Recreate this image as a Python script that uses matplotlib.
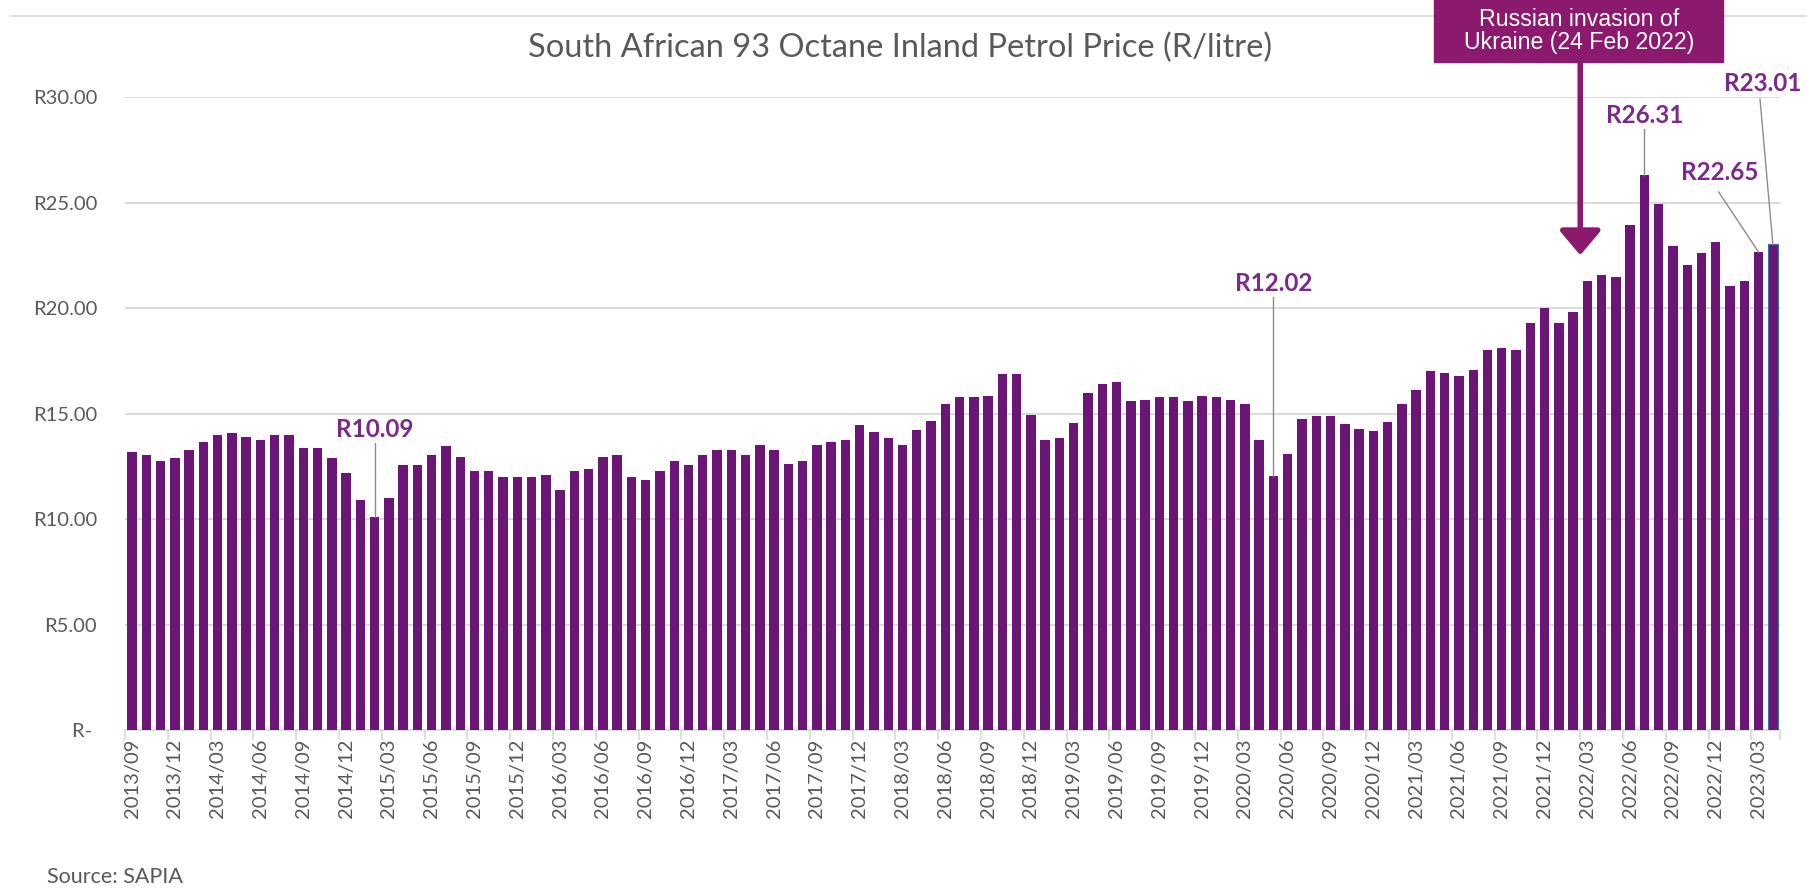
import matplotlib
matplotlib.use("Agg")
import matplotlib.pyplot as plt
from matplotlib.patches import Rectangle
from matplotlib.lines import Line2D

# monthly 93 octane inland price, 2013/09 .. 2023/04 (R/litre)
start_year, start_month = 2013, 9
prices = [
    13.19, 13.02, 12.73, 12.89, 13.27, 13.63, 13.99, 14.10, 13.90, 13.74,
    14.00, 14.00, 13.37, 13.37, 12.90, 12.16, 10.90, 10.09, 10.98, 12.55,
    12.55, 13.02, 13.47, 12.92, 12.26, 12.26, 12.01, 12.01, 12.01, 12.09,
    11.36, 12.26, 12.39, 12.92, 13.02, 12.00, 11.83, 12.26, 12.73, 12.58,
    13.03, 13.28, 13.28, 13.04, 13.49, 13.28, 12.59, 12.75, 13.49, 13.65,
    13.75, 14.45, 14.13, 13.84, 13.49, 14.20, 14.65, 15.45, 15.76, 15.76,
    15.82, 16.85, 16.85, 14.93, 13.75, 13.84, 14.56, 15.95, 16.39, 16.48,
    15.59, 15.65, 15.76, 15.76, 15.59, 15.83, 15.76, 15.65, 15.47, 13.76,
    12.02, 13.10, 14.74, 14.86, 14.86, 14.52, 14.25, 14.16, 14.62, 15.44,
    16.10, 17.00, 16.90, 16.80, 17.08, 18.00, 18.10, 18.00, 19.28, 20.00,
    19.28, 19.83, 21.29, 21.57, 21.48, 23.93, 26.31, 24.95, 22.95, 22.04,
    22.59, 23.11, 21.03, 21.30, 22.65, 23.01,
]
months = []
for i in range(len(prices)):
    m = start_month - 1 + i
    months.append(f"{start_year + m // 12}/{m % 12 + 1:02d}")

y_ticks = [0, 5, 10, 15, 20, 25, 30]
y_labels = ["R- ", "R5.00", "R10.00", "R15.00", "R20.00", "R25.00", "R30.00"]

# highlighted values: (month, text y, label)
callouts = [("2015/02", 13.7, "R10.09"),
            ("2020/05", 20.6, "R12.02"),
            ("2022/07", 28.6, "R26.31")]
invasion_text = "Russian invasion of\nUkraine (24 Feb 2022)"

bar_color = "#6B1677"
label_color = "#7A2A8A"
box_color = "#8B1A6F"
grey = "#595959"

fig = plt.figure(figsize=(18.08, 8.94), dpi=100)
ax = fig.add_axes([0.0691, 0.1834, 0.9154, 0.7081])

x = list(range(len(prices)))
ax.bar(x, prices, width=0.66, color=bar_color, zorder=3)
ax.bar(x[-1], prices[-1], width=0.66, color=bar_color, edgecolor="#3C6FA8",
       linewidth=0.8, zorder=3)

ax.set_xlim(-0.5, len(prices) - 0.5)
ax.set_ylim(0, 30)
ax.set_yticks(y_ticks)
ax.set_yticklabels(y_labels, fontsize=14.5, color=grey, family="Lato")
ax.tick_params(axis="y", length=0, pad=20)
ax.grid(axis="y", color="#D9D9D9", linewidth=1.4, zorder=0)

ax.set_xticks(x[::3])
ax.set_xticklabels(months[::3], rotation=90, fontsize=14.5, color=grey, family="Lato")
ax.set_xticks([i - 0.5 for i in x[::3]] + [len(prices) - 0.5], minor=True)
ax.tick_params(axis="x", which="major", length=0, pad=6)
ax.tick_params(axis="x", which="minor", length=7, color="#D9D9D9", width=1.2)

for side in ["top", "right", "left"]:
    ax.spines[side].set_visible(False)
ax.spines["bottom"].set_color("#D9D9D9")
ax.spines["bottom"].set_linewidth(1.2)

for month, ty, text in callouts:
    i = months.index(month)
    ax.text(i, ty, text, ha="center", va="bottom", fontsize=17.5,
            fontweight="bold", color=label_color, family="Lato", zorder=5)
    ax.plot([i, i], [ty - 0.1, prices[i]], color="#8C8C8C", lw=1, zorder=4)

# the two last months, labelled from above right
i = months.index("2023/03")
ax.text(111.3, 25.9, "R22.65", ha="center", va="bottom", fontsize=17.5,
        fontweight="bold", color=label_color, family="Lato", zorder=5)
ax.plot([111.2, i], [25.5, prices[i]], color="#8C8C8C", lw=1, zorder=4)
i = months.index("2023/04")
ax.text(114.3, 30.1, "R23.01", ha="center", va="bottom", fontsize=17.5,
        fontweight="bold", color=label_color, family="Lato", zorder=5,
        clip_on=False)
ax.plot([114.1, i], [29.9, prices[i]], color="#8C8C8C", lw=1, zorder=4,
        clip_on=False)

# arrow for the invasion date
ax.annotate("", xy=(101.5, 22.5), xytext=(101.5, 31.6),
            arrowprops=dict(arrowstyle="-|>,head_length=0.5,head_width=0.42",
                            lw=4, color=box_color, mutation_scale=30,
                            shrinkA=0, shrinkB=0),
            annotation_clip=False, zorder=6)

# chart border line at the top
fig.add_artist(Line2D([0.006, 1.0], [0.982, 0.982], color="#D9D9D9", lw=1.2))
fig.add_artist(Rectangle((0.7932, 0.9306), 0.160, 0.0694, color=box_color,
                         transform=fig.transFigure, zorder=10))
fig.text(0.8732, 0.9655, invasion_text, ha="center", va="center", color="white",
         fontsize=16.7, family="Liberation Sans", linespacing=1.0, zorder=11)

fig.text(0.4978, 0.946, "South African 93 Octane Inland Petrol Price (R/litre)",
         ha="center", va="center", fontsize=23.5, color=grey, family="Lato")
fig.text(0.026, 0.008, "Source: SAPIA", ha="left", va="bottom", fontsize=15.5,
         color=grey, family="Lato")

fig.savefig("out.png", dpi=100)
